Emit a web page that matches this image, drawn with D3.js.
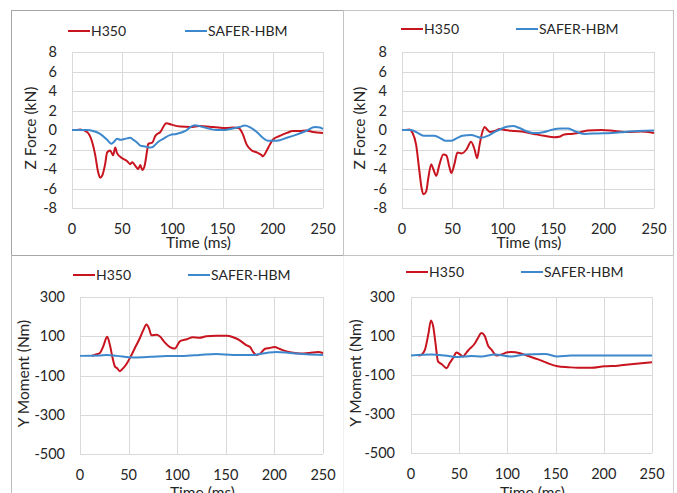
<!DOCTYPE html>
<html>
<head>
<meta charset="utf-8">
<script src="https://cdn.jsdelivr.net/npm/d3@7"></script>
<style>
  body { margin: 0; background: #fff; }
  text { font-family: Lato, "Open Sans", sans-serif; fill: #262626; }
</style>
</head>
<body>
<div id="chart"></div>
<script>
// series names and colours
const seriesNames = ["H350", "SAFER-HBM"];
const seriesColors = ["#c8141e", "#3d88cc"];

// x ticks shared by all panels (ms)
const timeTicks = [0, 50, 100, 150, 200, 250];
const forceTicks = [-8, -6, -4, -2, 0, 2, 4, 6, 8];
const momentTicks = [-500, -300, -100, 100, 300];

// Panel A: Z force, top left  [time, kN]
const zForceA_H350 = [[5,0],[8,0.05],[15,-0.2],[20,-1.2],[23,-2.5],[26,-4.3],[28,-4.9],[30,-4.7],[33,-3.5],[35,-2.3],
  [38,-2.1],[41,-2.6],[43,-1.8],[45,-2.4],[50,-2.9],[55,-3.2],[58,-3.5],[60,-3.3],[64,-3.8],[66,-4.0],[68,-3.6],
  [70,-4.1],[72,-3.8],[75,-2.0],[76,-1.4],[80,-1.3],[83,-0.6],[88,-0.2],[94,0.7],[99,0.55],[108,0.35],[118,0.3],
  [127,0.4],[141,0.3],[154,0.2],[161,0.25],[166,0.2],[170,-0.4],[174,-1.5],[179,-2.1],[184,-2.3],[189,-2.6],
  [190,-2.7],[194,-2.1],[197,-1.5],[200,-1.0],[207,-0.6],[214,-0.3],[220,-0.1],[227,-0.1],[233,-0.05],[240,-0.2],[250,-0.3]];
const zForceA_SAFER = [[0,0],[15,0],[21,-0.1],[28,-0.4],[35,-1.0],[39,-1.4],[41,-1.3],[45,-0.9],[48,-1.0],[53,-0.9],
  [58,-0.8],[61,-1.0],[65,-1.3],[68,-1.6],[73,-1.7],[78,-1.8],[81,-1.7],[86,-1.2],[91,-0.9],[98,-0.5],[104,-0.4],
  [113,-0.1],[118,0.3],[122,0.5],[127,0.4],[134,0.2],[144,0],[151,0],[157,0.1],[167,0.3],[172,0.45],[177,0.3],
  [184,-0.2],[190,-0.8],[195,-1.1],[204,-1.1],[214,-0.8],[223,-0.5],[233,-0.1],[242,0.3],[247,0.25],[250,0.1]];

// Panel B: Z force, top right
const zForceB_H350 = [[4,0],[7,0.05],[10.5,-0.3],[14,-1.5],[17,-4.0],[19.5,-6.0],[21.5,-6.6],[24,-6.3],[26,-5.0],
  [29,-3.5],[31,-4.0],[34,-4.7],[37,-3.6],[41,-2.5],[44,-2.6],[47,-3.8],[49,-4.4],[52,-3.5],[55,-2.3],[59,-2.4],
  [64,-2.0],[68.5,-1.2],[72,-2.0],[74.5,-2.9],[77,-1.5],[79,-0.5],[82,0.3],[84,0.1],[87,-0.2],[92,-0.1],[97,0.1],
  [102,0],[112,-0.1],[121.5,-0.2],[131,-0.4],[141,-0.6],[151,-0.75],[156,-0.7],[161,-0.45],[168,-0.4],[174.5,-0.3],
  [184,-0.05],[198,0],[211,-0.1],[224,-0.2],[237,-0.15],[250,-0.3]];
const zForceB_SAFER = [[0,0],[9,0],[15.5,-0.3],[22,-0.6],[32,-0.6],[39,-0.9],[43,-1.1],[49,-1.1],[55,-0.8],[60,-0.6],
  [68.5,-0.5],[75,-0.7],[78,-0.8],[85,-0.6],[92,-0.2],[98,0.1],[105,0.35],[110,0.4],[116.5,0.2],[123,-0.1],[130,-0.3],
  [135,-0.3],[141,-0.2],[148,0],[158,0.15],[164.5,0.15],[171,-0.1],[181,-0.4],[194,-0.35],[208,-0.3],[221,-0.2],
  [234,-0.1],[250,-0.05]];

// Panel C: Y moment, bottom left  [time, Nm]
const yMomentC_H350 = [[12,0],[17,8],[20.5,15],[24,50],[28,97],[31,50],[33.5,-10],[36,-55],[38,-62],[41,-78],[44,-65],
  [48,-40],[52,-5],[56.5,40],[61.5,90],[65,130],[68.5,160],[71,140],[73.5,105],[79,108],[82,100],[87,70],[92.5,45],
  [97.5,38],[103,75],[110,85],[116,95],[123,92],[130,100],[140,103],[151,103],[157.5,95],[164,80],[171,55],[175,45],
  [178,20],[181.5,5],[185,10],[190,35],[195,40],[200,45],[205.5,35],[216,18],[226,12],[236,15],[245,20],[250,15]];
const yMomentC_SAFER = [[0,0],[20.5,2],[27,5],[38,0],[55,-8],[72,-5],[89,0],[106,0],[123,5],[140,10],[157.5,5],
  [178,5],[192,15],[202,20],[216,15],[233,8],[250,5]];

// Panel D: Y moment, bottom right
const yMomentD_H350 = [[7.5,0],[11,5],[14.5,30],[18,110],[20.7,180],[23,150],[25.5,60],[28,-30],[32,-45],[37,-65],
  [40,-40],[44,-10],[47,15],[51,5],[54,-5],[57.5,15],[61,35],[66,60],[69.5,90],[73,115],[76.5,100],[80,50],[83.5,30],
  [88.5,0],[94,5],[99,15],[104,18],[113,12],[120,0],[132,-20],[142,-40],[152,-55],[163,-60],[173,-63],[187,-63],
  [200.5,-55],[214.5,-52],[228,-45],[250,-35]];
const yMomentD_SAFER = [[0,0],[21,5],[35,0],[49,-8],[63,-3],[73,-5],[87,5],[104,-5],[118,5],[139,8],[152,-5],[166,0],[250,0]];

const W = 677, H = 493;
const svg = d3.select("#chart").append("svg")
  .attr("width", W).attr("height", H);

// panel frames
svg.append("rect").attr("x", 11.5).attr("y", 10.5).attr("width", 332).attr("height", 245)
  .attr("fill", "none").attr("stroke", "#a6a6a6");
svg.append("rect").attr("x", 343.5).attr("y", 10.5).attr("width", 330).attr("height", 245)
  .attr("fill", "none").attr("stroke", "#c4c4c4");
svg.append("line").attr("x1", 11.5).attr("x2", 11.5).attr("y1", 255).attr("y2", H)
  .attr("stroke", "#bdbdbd");
svg.append("line").attr("x1", 673.5).attr("x2", 673.5).attr("y1", 255).attr("y2", H)
  .attr("stroke", "#d4d4d4");
svg.append("line").attr("x1", 343.5).attr("x2", 343.5).attr("y1", 256).attr("y2", H)
  .attr("stroke", "#f0f0f0");

const panels = [
  { left: 72, right: 323, top: 52, bottom: 208, domain: [-8, 8], ticks: forceTicks,
    series: [zForceA_H350, zForceA_SAFER], yTitle: "Z Force  (kN)", yTitleX: 31, tickEnd: 57,
    legendX: 68, legendBlueX: 185, legendY: 31, timeY: 248 },
  { left: 402, right: 654, top: 52, bottom: 208, domain: [-8, 8], ticks: forceTicks,
    series: [zForceB_H350, zForceB_SAFER], yTitle: "Z Force  (kN)", yTitleX: 360, tickEnd: 387,
    legendX: 401, legendBlueX: 516, legendY: 29, timeY: 248 },
  { left: 80, right: 323, top: 297, bottom: 454, domain: [-500, 300], ticks: momentTicks,
    series: [yMomentC_H350, yMomentC_SAFER], yTitle: "Y Moment (Nm)", yTitleX: 24, tickEnd: 65,
    legendX: 73, legendBlueX: 188, legendY: 275, timeY: 498 },
  { left: 411, right: 652, top: 297, bottom: 453, domain: [-500, 300], ticks: momentTicks,
    series: [yMomentD_H350, yMomentD_SAFER], yTitle: "Y Moment (Nm)", yTitleX: 356, tickEnd: 395,
    legendX: 406, legendBlueX: 521, legendY: 272, timeY: 498 }
];

panels.forEach(p => {
  const x = d3.scaleLinear().domain([0, 250]).range([p.left, p.right]);
  const y = d3.scaleLinear().domain(p.domain).range([p.bottom, p.top]);
  const g = svg.append("g");

  // gridlines
  g.selectAll(".hgrid").data(p.ticks).enter()
    .append("line")
    .attr("x1", p.left).attr("x2", p.right)
    .attr("y1", d => Math.round(y(d)) + 0.5).attr("y2", d => Math.round(y(d)) + 0.5)
    .attr("stroke", "#d9d9d9");
  g.selectAll(".vgrid").data(timeTicks).enter()
    .append("line")
    .attr("y1", p.top).attr("y2", p.bottom)
    .attr("x1", d => Math.round(x(d)) + 0.5).attr("x2", d => Math.round(x(d)) + 0.5)
    .attr("stroke", "#d9d9d9");

  // tick labels
  g.selectAll(".ylab").data(p.ticks).enter()
    .append("text")
    .attr("x", p.tickEnd).attr("y", d => y(d))
    .attr("dy", "0.36em")
    .attr("text-anchor", "end")
    .style("font-size", "14.5px")
    .text(d => d);
  g.selectAll(".xlab").data(timeTicks).enter()
    .append("text")
    .attr("x", d => x(d)).attr("y", p.bottom + 26)
    .attr("text-anchor", "middle")
    .style("font-size", "14.5px")
    .text(d => d);

  // axis titles
  g.append("text")
    .attr("x", (p.left + p.right) / 2 + 1).attr("y", p.timeY)
    .attr("text-anchor", "middle")
    .style("font-size", "15.5px")
    .text("Time (ms)");
  g.append("text")
    .attr("transform", `translate(${p.yTitleX},${(p.top + p.bottom) / 2 - 2}) rotate(-90)`)
    .attr("dy", "0.35em")
    .attr("text-anchor", "middle")
    .style("font-size", "15.5px")
    .text(p.yTitle);

  // lines
  const line = d3.line().x(d => x(d[0])).y(d => y(d[1])).curve(d3.curveMonotoneX);
  p.series.forEach((s, i) => {
    g.append("path")
      .datum(s)
      .attr("fill", "none")
      .attr("stroke", seriesColors[i])
      .attr("stroke-width", 2)
      .attr("stroke-linejoin", "round")
      .attr("d", line);
  });

  // legend
  [p.legendX, p.legendBlueX].forEach((lx, i) => {
    g.append("line")
      .attr("x1", lx).attr("x2", lx + 22)
      .attr("y1", p.legendY).attr("y2", p.legendY)
      .attr("stroke", seriesColors[i]).attr("stroke-width", 2);
    g.append("text")
      .attr("x", lx + 23).attr("y", p.legendY)
      .attr("dy", "0.36em")
      .style("font-size", "14px")
      .text(seriesNames[i]);
  });
});
</script>
</body>
</html>
